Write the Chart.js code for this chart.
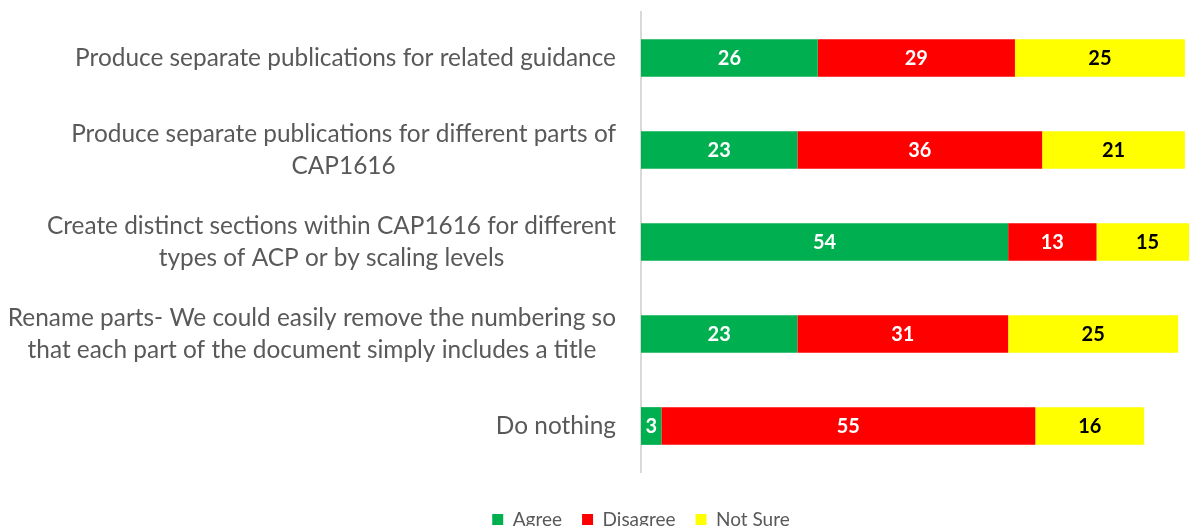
<!DOCTYPE html>
<html>
<head>
<meta charset="utf-8">
<script src="https://cdn.jsdelivr.net/npm/chart.js@4/dist/chart.umd.min.js"></script>
<style>
  html, body { margin: 0; padding: 0; background: #fff; overflow: hidden; }
  #wrap { width: 1189px; height: 539px; position: relative; }
</style>
</head>
<body>
<div id="wrap"><canvas id="chart"></canvas></div>
<script>
const categories = [
  ['Produce separate publications for related guidance'],
  ['Produce separate publications for different parts of', 'CAP1616'],
  ['Create distinct sections within CAP1616 for different', 'types of ACP or by scaling levels'],
  ['Rename parts- We could easily remove the numbering so', 'that each part of the document simply includes a title'],
  ['Do nothing']
];
const agree = [26, 23, 54, 23, 3];
const disagree = [29, 36, 13, 31, 55];
const notSure = [25, 21, 15, 25, 16];

const labelColors = ['#ffffff', '#ffffff', '#000000'];

// category labels: lines centred on each other, block right-aligned to the axis
const catLabels = {
  id: 'catLabels',
  afterDraw(chart) {
    const { ctx } = chart;
    const y = chart.scales.y;
    ctx.save();
    ctx.font = '24.4px Lato';
    ctx.fillStyle = '#595959';
    ctx.textAlign = 'center';
    ctx.textBaseline = 'middle';
    categories.forEach((lines, i) => {
      const cy = y.getPixelForTick(i);
      const widest = Math.max(...lines.map(l => ctx.measureText(l).width));
      const cx = y.right - 25 - widest / 2;
      lines.forEach((l, j) => {
        ctx.fillText(l, cx, cy + (j - (lines.length - 1) / 2) * 32);
      });
    });
    ctx.restore();
  }
};

const valueLabels = {
  id: 'valueLabels',
  afterDatasetsDraw(chart) {
    const { ctx } = chart;
    ctx.save();
    ctx.font = 'bold 20px Lato';
    ctx.textAlign = 'center';
    ctx.textBaseline = 'middle';
    chart.data.datasets.forEach((ds, di) => {
      ctx.fillStyle = labelColors[di];
      chart.getDatasetMeta(di).data.forEach((bar, i) => {
        ctx.fillText(ds.data[i], (bar.x + bar.base) / 2, bar.y + 1);
      });
    });
    ctx.restore();
  }
};

new Chart(document.getElementById('chart'), {
  type: 'bar',
  data: {
    labels: categories,
    datasets: [
      { label: 'Agree', data: agree, backgroundColor: '#00B050' },
      { label: 'Disagree', data: disagree, backgroundColor: '#FF0000' },
      { label: 'Not Sure', data: notSure, backgroundColor: '#FFFF00' }
    ].map(d => Object.assign(d, { borderWidth: 0, clip: false, categoryPercentage: 1, barPercentage: 0.41 }))
  },
  options: {
    indexAxis: 'y',
    responsive: true,
    maintainAspectRatio: false,
    animation: false,
    layout: { padding: { left: 93, right: 0, top: 12, bottom: 0 } },
    scales: {
      x: {
        stacked: true,
        min: 0,
        max: 80.6,
        ticks: { display: false },
        grid: { display: false },
        border: { display: false },
        afterFit(scale) { scale.height = 18; }
      },
      y: {
        stacked: true,
        ticks: { display: false },
        grid: { display: false },
        border: { display: true, color: '#d9d9d9', width: 2 },
        afterFit(scale) { scale.width = 548; }
      }
    },
    plugins: {
      legend: {
        position: 'bottom',
        labels: {
          boxWidth: 11,
          boxHeight: 11,
          padding: 20,
          color: '#595959',
          font: { family: 'Lato', size: 19 }
        }
      },
      tooltip: { enabled: false }
    }
  },
  plugins: [catLabels, valueLabels]
});
</script>
</body>
</html>
